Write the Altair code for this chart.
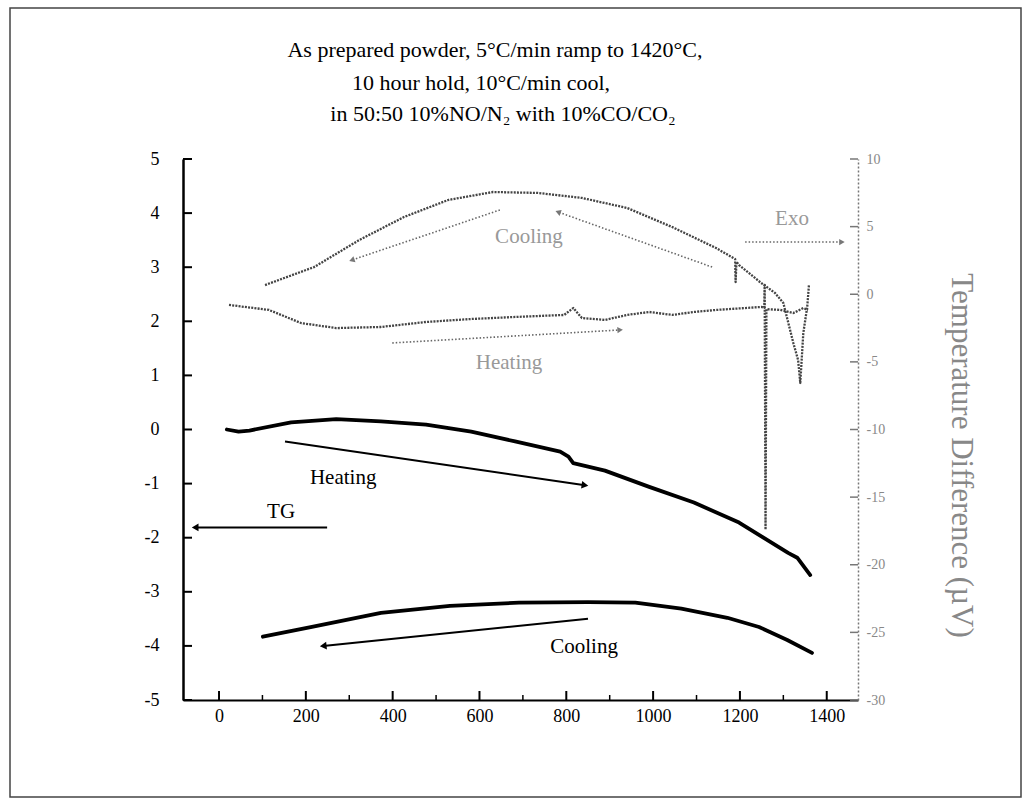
import math
import altair as alt
import pandas as pd

# ---------------- data ----------------
# TG curves (left axis, %)
tg_heat_x = [18, 45, 70, 166, 270, 373, 477, 581, 682, 786, 805, 816, 889, 991, 1094, 1198, 1311, 1332, 1362]
tg_heat_y = [0.0, -0.04, -0.02, 0.13, 0.19, 0.15, 0.09, -0.04, -0.22, -0.41, -0.5, -0.62, -0.76, -1.06, -1.35, -1.72, -2.28, -2.37, -2.69]

tg_cool_x = [101, 214, 373, 532, 691, 850, 959, 1065, 1171, 1244, 1309, 1366]
tg_cool_y = [-3.83, -3.65, -3.39, -3.26, -3.2, -3.19, -3.2, -3.31, -3.48, -3.65, -3.89, -4.13]

# DTA curves (right axis, microvolt)
dta_heat_x = [23, 115, 189, 270, 373, 477, 581, 682, 795, 816, 836, 889, 940, 991, 1044, 1094, 1145,
              1249, 1256, 1257, 1259, 1261, 1293, 1323, 1346, 1357]
dta_heat_v = [-0.79, -1.16, -2.13, -2.5, -2.42, -2.05, -1.83, -1.68, -1.53, -1.02, -1.76, -1.9, -1.53, -1.31, -1.53, -1.31, -1.16,
              -0.94, -1.0, 0.7, -17.4, -1.1, -1.16, -1.39, -1.02, -1.16]

dta_cool_x = [106, 219, 323, 426, 528, 631, 735, 836, 940, 1044, 1145, 1189, 1190, 1192, 1198, 1249, 1281,
              1300, 1323, 1334, 1339, 1346, 1355, 1359]
dta_cool_v = [0.68, 2.01, 4.01, 5.71, 6.97, 7.56, 7.49, 7.12, 6.38, 4.97, 3.42, 2.6, 0.9, 2.4, 2.16, 0.83, 0.09,
              -0.65, -3.6, -4.86, -6.56, -2.87, -0.94, 0.68]

# annotation arrows: (x1, y1, x2, y2) head at (x2, y2)
tg_arrows = [(152, -0.22, 843, -1.03), (249, -1.81, -55, -1.81), (850, -3.5, 240, -4.0)]
tg_labels = ["Heating", "TG", "Cooling"]
tg_label_x = [286, 143, 841]
tg_label_y = [-0.89, -1.53, -4.02]

dta_arrows = [(647, 6.23, 306, 2.53), (1136, 2.01, 781, 6.08), (399, -3.6, 924, -2.64), (1212, 3.86, 1435, 3.86)]
dta_labels = ["Cooling", "Heating", "Exo"]
dta_label_x = [714, 668, 1320]
dta_label_v = [4.23, -5.08, 5.6]

x_ticks = [0, 200, 400, 600, 800, 1000, 1200, 1400]
x_minor = [100, 300, 500, 700, 900, 1100, 1300]
yl_ticks = [5, 4, 3, 2, 1, 0, -1, -2, -3, -4, -5]
yr_ticks = [10, 5, 0, -5, -10, -15, -20, -25, -30]

title_lines = ["As prepared powder, 5°C/min ramp to 1420°C,",
               "10 hour hold, 10°C/min cool,",
               "in 50:50 10%NO/N₂ with 10%CO/CO₂"]
right_title = "Temperature Difference (µV)"

# ---------------- layout ----------------
X_DOMAIN = [-83, 1472]
YL = [-5, 5]
YR = [-30, 10]
W, H = 675, 541
FONT = "Liberation Serif"
kx = W / (X_DOMAIN[1] - X_DOMAIN[0])
kyl = H / (YL[1] - YL[0])
kyr = H / (YR[1] - YR[0])

xs = alt.Scale(domain=X_DOMAIN, nice=False, zero=False)
yls = alt.Scale(domain=YL, nice=False, zero=False)
yrs = alt.Scale(domain=YR, nice=False, zero=False)

X_AX = alt.Axis(values=x_ticks, tickSize=0, labelFont=FONT, labelFontSize=18, labelColor="black",
                labelPadding=7, domainColor="black", domainWidth=2, grid=False, title=None,
                labelExpr="'' + datum.value")
YL_AX = alt.Axis(values=yl_ticks, tickSize=0, labelFont=FONT, labelFontSize=18, labelColor="black",
                 labelPadding=24, domainColor="black", domainWidth=2.5, grid=False, title=None,
                 labelExpr="'' + datum.value")
YR_AX = alt.Axis(orient="right", values=yr_ticks, tickSize=0, labelFont=FONT, labelFontSize=14,
                 labelColor="#888", labelPadding=8, domainColor="#777", domainDash=[2, 2],
                 domainWidth=1.5, grid=False, title=right_title, titleAngle=90, titleFont=FONT,
                 titleFontSize=31, titleFontWeight="normal", titleColor="#888", titleX=102,
                 titleY=296, titleAlign="center", titleBaseline="middle",
                 labelExpr="'' + datum.value")

X_ENC = alt.X("x:Q", scale=xs, axis=X_AX)
YL_ENC = alt.Y("y:Q", scale=yls, axis=YL_AX)
YR_ENC = alt.Y("y:Q", scale=yrs, axis=YR_AX)


def curve_df(xs_, ys_, name):
    return pd.DataFrame({"x": xs_, "y": ys_, "series": name, "order": range(len(xs_))})


def arrow_dfs(arrows, ky):
    rows, heads = [], []
    for i, (x1, y1, x2, y2) in enumerate(arrows):
        rows.append({"x": x1, "y": y1, "id": i, "o": 0})
        rows.append({"x": x2, "y": y2, "id": i, "o": 1})
        ang = math.degrees(math.atan2(-(y2 - y1) * ky, (x2 - x1) * kx)) % 360
        heads.append({"x": x2, "y": y2, "ang": ang})
    return pd.DataFrame(rows), pd.DataFrame(heads)


tg_df = pd.concat([curve_df(tg_heat_x, tg_heat_y, "heat"), curve_df(tg_cool_x, tg_cool_y, "cool")])
dta_df = pd.concat([curve_df(dta_heat_x, dta_heat_v, "heat"), curve_df(dta_cool_x, dta_cool_v, "cool")])
tg_arr, tg_head = arrow_dfs(tg_arrows, kyl)
dta_arr, dta_head = arrow_dfs(dta_arrows, kyr)
tg_txt = pd.DataFrame({"x": tg_label_x, "y": tg_label_y, "t": tg_labels})
dta_txt = pd.DataFrame({"x": dta_label_x, "y": dta_label_v, "t": dta_labels})

# ---------------- left (TG) group ----------------
tg_lines = alt.Chart(tg_df).mark_line(color="black", strokeWidth=3.8, strokeCap="round", strokeJoin="round").encode(
    x=X_ENC, y=YL_ENC, detail="series:N", order="order:Q")

tg_arrow_lines = alt.Chart(tg_arr).mark_line(color="black", strokeWidth=2).encode(
    x=X_ENC, y=YL_ENC, detail="id:N", order="o:Q")
tg_arrow_heads = alt.Chart(tg_head).mark_point(shape="triangle-right", filled=True, color="black",
                                               size=60, opacity=1).encode(
    x=X_ENC, y=YL_ENC, angle=alt.Angle("ang:Q", scale=None))
tg_texts = alt.Chart(tg_txt).mark_text(font=FONT, fontSize=21, color="black").encode(
    x=X_ENC, y=YL_ENC, text="t:N")

yl_tick_df = pd.DataFrame({"y": yl_ticks})
left_ticks = alt.Chart(yl_tick_df).mark_rule(color="black", strokeWidth=2).encode(
    y=YL_ENC, x=alt.value(0), x2=alt.value(9))
x_tick_df = pd.DataFrame({"x": x_ticks})
x_minor_df = pd.DataFrame({"x": x_minor})
x_major_ticks = alt.Chart(x_tick_df).mark_rule(color="black", strokeWidth=2).encode(
    x=X_ENC, y=alt.value(H), y2=alt.value(H - 9))
x_minor_ticks = alt.Chart(x_minor_df).mark_rule(color="black", strokeWidth=1.5).encode(
    x=X_ENC, y=alt.value(H), y2=alt.value(H - 5))

# frame around the whole figure
one = pd.DataFrame({"a": [0]})
frame = alt.Chart(one).mark_rect(fill=None, stroke="#444", strokeWidth=1.5).encode(
    x=alt.value(-173), x2=alt.value(838), y=alt.value(-151), y2=alt.value(638))

# title lines (pixel offsets relative to the plot's top-left corner)
title_pos = [(312, -109), (298, -76), (320, -45)]
title_marks = [
    alt.Chart(one).mark_text(text=t, font=FONT, fontSize=22, color="black", align="center",
                             baseline="middle").encode(x=alt.value(px), y=alt.value(py))
    for t, (px, py) in zip(title_lines, title_pos)
]

left = alt.layer(tg_lines, tg_arrow_lines, tg_arrow_heads, tg_texts, left_ticks,
                 x_major_ticks, x_minor_ticks, frame, *title_marks)

# ---------------- right (DTA) group ----------------
dta_lines = alt.Chart(dta_df).mark_line(color="#444", strokeWidth=2.3, strokeDash=[2, 1.2],
                                        strokeJoin="round").encode(
    x=X_ENC, y=YR_ENC, detail="series:N", order="order:Q")
dta_arrow_lines = alt.Chart(dta_arr).mark_line(color="#666", strokeWidth=1.6, strokeDash=[1.5, 2]).encode(
    x=X_ENC, y=YR_ENC, detail="id:N", order="o:Q")
dta_arrow_heads = alt.Chart(dta_head).mark_point(shape="triangle-right", filled=True, color="#777",
                                                 size=40, opacity=1).encode(
    x=X_ENC, y=YR_ENC, angle=alt.Angle("ang:Q", scale=None))
dta_texts = alt.Chart(dta_txt).mark_text(font=FONT, color="#999").encode(
    x=X_ENC, y=YR_ENC, text="t:N",
    size=alt.Size("t:N", scale=alt.Scale(domain=dta_labels, range=[21, 21, 14]), legend=None))

yr_tick_df = pd.DataFrame({"y": yr_ticks})
right_ticks = alt.Chart(yr_tick_df).mark_rule(color="#777", strokeWidth=1.5).encode(
    y=YR_ENC, x=alt.value(W), x2=alt.value(W - 8))

right = alt.layer(dta_lines, dta_arrow_lines, dta_arrow_heads, dta_texts, right_ticks)

chart = alt.layer(left, right).resolve_scale(y="independent").properties(
    width=W, height=H,
    autosize=alt.AutoSizeParams(type="none"),
    padding={"left": 183, "top": 159, "right": 171, "bottom": 105},
    background="white",
).configure_view(stroke=None)

chart.save("out.html", embed_options={"renderer": "svg", "actions": False})
